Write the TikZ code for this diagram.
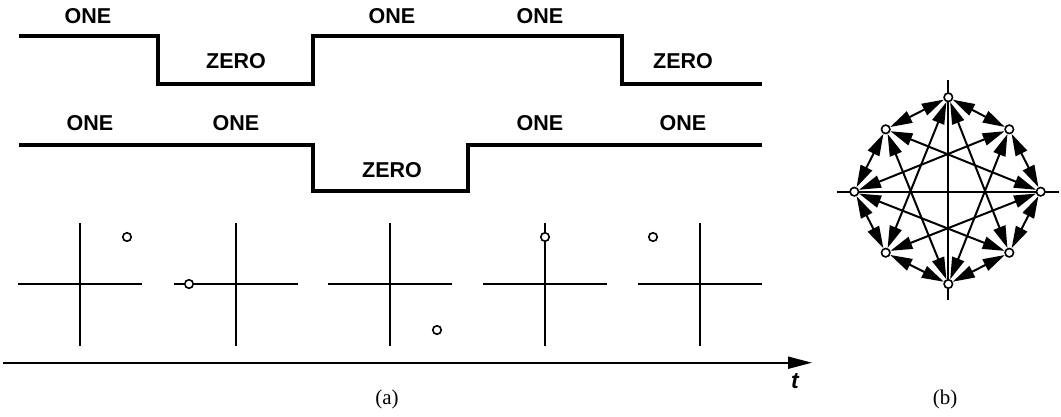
\documentclass[tikz,border=0pt]{standalone}
\usepackage{fontspec}
\setmainfont{Liberation Serif}
\newfontfamily\hv{Liberation Sans}
\usetikzlibrary{arrows.meta,backgrounds}
\begin{document}
\begin{tikzpicture}[x=1pt,y=-1pt,
 wave/.style={line width=3.5pt, line join=miter},
 ax/.style={line width=2pt},
 lbl/.style={font=\hv\bfseries\fontsize{21.5}{25}\selectfont, inner sep=0pt},
 captxt/.style={font=\fontsize{21}{25}\selectfont, inner sep=0pt},
 pt/.style={circle,draw,fill=white,inner sep=0pt,minimum size=8.5pt,line width=1.6pt},
 tr/.style={line width=2pt,{Triangle[length=22pt,width=12.5pt]}-{Triangle[length=22pt,width=12.5pt]}}
]
\useasboundingbox (0,0) rectangle (1061,416);
% waveform 1
\draw[wave] (19,36) -- (158,36) -- (158,84) -- (313,84) -- (313,36) -- (622,36) -- (622,84) -- (762,84);
\node[lbl] (a1) at (88,16) {ONE};
\node[lbl] (a2) at (236,61) {ZERO};
\node[lbl] (a3) at (392,16) {ONE};
\node[lbl] (a4) at (540,16) {ONE};
\node[lbl] (a5) at (683,61) {ZERO};
% waveform 2
\draw[wave] (19,145) -- (313,145) -- (313,191) -- (468,191) -- (468,145) -- (762,145);
\node[lbl] (b1) at (90,123) {ONE};
\node[lbl] (b2) at (236,123) {ONE};
\node[lbl] (b3) at (392,170) {ZERO};
\node[lbl] (b4) at (540,123) {ONE};
\node[lbl] (b5) at (683,123) {ONE};
% small constellations
\foreach \cx/\dx/\dy/\n in {80/47/-47/1, 236/-47/0/2, 390/47/46/3, 545/0/-47/4, 700/-47/-47/5}{
  \draw[ax] (\cx-62,284) -- (\cx+62,284);
  \draw[ax] (\cx,223) -- (\cx,346);
  \node[pt] (s\n) at (\cx+\dx,284+\dy) {};
}
% time axis
\coordinate (t0) at (3,362.7);
\coordinate (t1) at (812,362.7);
\draw[ax,-{Triangle[length=24pt,width=12pt]}] (t0) -- (t1);
\node[font=\hv\bfseries\itshape\fontsize{23}{27}\selectfont, inner sep=0pt] (tl) at (795,381) {t};
\node[captxt] (ca) at (387,399) {(a)};
\node[captxt] (cb) at (945,399) {(b)};
% big constellation
\draw[ax] (948.3,80) -- (948.3,300);
\draw[ax] (837,191.7) -- (1059,191.7);
\node[pt] (p0) at (1040.7,191.7) {};
\node[pt] (p1) at (1009.3,129.3) {};
\node[pt] (p2) at (948.3,97.3) {};
\node[pt] (p3) at (885.7,129.3) {};
\node[pt] (p4) at (854.3,191.7) {};
\node[pt] (p5) at (885.7,252.7) {};
\node[pt] (p6) at (948.3,284) {};
\node[pt] (p7) at (1009.3,252.7) {};
\begin{scope}[on background layer]
\draw[tr] (p0) -- (p1);
\draw[tr] (p1) -- (p2);
\draw[tr] (p2) -- (p3);
\draw[tr] (p3) -- (p4);
\draw[tr] (p4) -- (p5);
\draw[tr] (p5) -- (p6);
\draw[tr] (p6) -- (p7);
\draw[tr] (p7) -- (p0);
\draw[tr] (p0) -- (p3);
\draw[tr] (p1) -- (p4);
\draw[tr] (p2) -- (p5);
\draw[tr] (p3) -- (p6);
\draw[tr] (p4) -- (p7);
\draw[tr] (p5) -- (p0);
\draw[tr] (p6) -- (p1);
\draw[tr] (p7) -- (p2);
\end{scope}
\end{tikzpicture}
\end{document}
